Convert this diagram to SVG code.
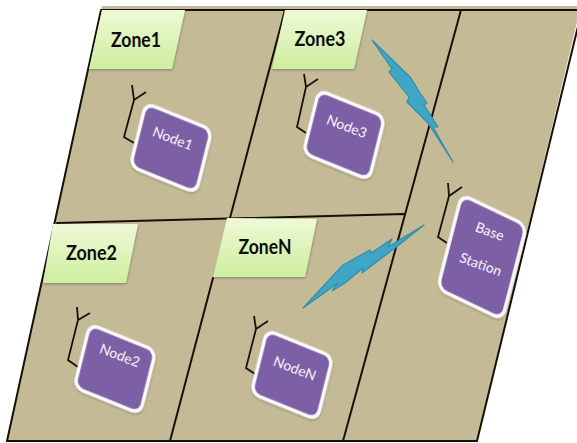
<svg xmlns="http://www.w3.org/2000/svg" width="577" height="443" viewBox="0 0 577 443">
<style>
.edge{fill:none;stroke:#141208;stroke-width:2;stroke-linecap:round}
.ant{fill:none;stroke:#15130c;stroke-width:1.8;stroke-linejoin:miter}
.box{fill:#7c5fa5;stroke:#fbfafc;stroke-width:3.5;filter:url(#sh)}
.lab{fill:url(#g);filter:url(#sh)}
.zt{font:bold 20px Lato,"Liberation Sans",sans-serif;fill:#0c0c0a;text-anchor:middle}
.nt{font:500 14px Lato,"Liberation Sans",sans-serif;fill:#efeaf4;text-anchor:middle}
.bolt{fill:#40a6c6;stroke:#2f8fa8;stroke-width:1.2;stroke-linejoin:round}
</style>
<defs>
<linearGradient id="g" x1="0" y1="0" x2="0" y2="1"><stop offset="0" stop-color="#eff9d6"/><stop offset="1" stop-color="#cdee9f"/></linearGradient>
<filter id="sh" x="-10%" y="-10%" width="125%" height="125%"><feDropShadow dx="0.5" dy="1.2" stdDeviation="0.8" flood-color="#000" flood-opacity="0.3"/></filter>
</defs>
<rect width="577" height="443" fill="#fff"/>
<g id="ground">
<polygon points="102,6 577,6 577,22 477,441 7,441 101,10" fill="#c4bb96"/>
</g>
<g id="connectors">
<path class="edge" d="M102,10H577M101,10L7,441H477L582,10M285,10L230,218M213,278L170,441M461,10L343,441M57,223L404,214"/>
<polygon class="bolt" points="372,40 411,78 420,93 427,103 424,105 438,127 433,127 453,162 428,123 407,102 409,97 389,72 392,69"/>
<polygon class="bolt" points="303,308 343,265 370,250 371,253 392,239 388,247 424,225 395,248 362,273 363,268 345,283 332,291 338,283"/>
</g>
<g id="zone1"><polygon class="lab" points="102,10 185,10 172,69 89,69"/><text class="zt" x="136" y="47" textLength="50" lengthAdjust="spacingAndGlyphs">Zone1</text></g>
<g id="zone3"><polygon class="lab" points="285,10 367,10 354,69 272,69"/><text class="zt" x="320" y="46" textLength="51" lengthAdjust="spacingAndGlyphs">Zone3</text></g>
<g id="zone2"><polygon class="lab" points="53,224 138,224 126,283 43,283"/><text class="zt" x="91.500" y="260" textLength="51" lengthAdjust="spacingAndGlyphs">Zone2</text></g>
<g id="zoneN"><polygon class="lab" points="227,218 317,219 305,277 213,277"/><text class="zt" x="265" y="254" textLength="53" lengthAdjust="spacingAndGlyphs">ZoneN</text></g>
<g id="node1">
<path class="ant" d="M132,85L134,100L146,92M134,100L124,137L134,143"/>
<rect class="box" x="-35.500" y="-32.500" width="71" height="65" rx="9" transform="matrix(.927 .375 -.242 .97 171 148)"/>
<text class="nt" transform="translate(171,143) rotate(21)">Node1</text>
</g>
<g id="node3">
<path class="ant" d="M304,74L306,87L318,79M306,87L297,127L306,133"/>
<rect class="box" x="-35.500" y="-32.500" width="71" height="65" rx="9" transform="matrix(.927 .375 -.242 .97 344 135)"/>
<text class="nt" transform="translate(345,131) rotate(21)">Node3</text>
</g>
<g id="node2">
<path class="ant" d="M77,307L78,320L90,313M78,320L68,360L78,367"/>
<rect class="box" x="-35.500" y="-32.500" width="71" height="65" rx="9" transform="matrix(.927 .375 -.242 .97 115 369)"/>
<text class="nt" transform="translate(118,360) rotate(21)">Node2</text>
</g>
<g id="nodeN">
<path class="ant" d="M254,316L256,329L268,321M256,329L246,368L255,374"/>
<rect class="box" x="-35.500" y="-32.500" width="71" height="65" rx="9" transform="matrix(.927 .375 -.242 .97 292 375)"/>
<text class="nt" transform="translate(293,373) rotate(21)">NodeN</text>
</g>
<g id="base">
<path class="ant" d="M448,183L449,196L462,187M449,196L438,237L447,243"/>
<rect class="box" x="-36" y="-48.500" width="72" height="97" rx="10" transform="matrix(.9 .43 -.25 .97 482 257)"/>
<text class="nt" transform="translate(488,236) rotate(20)">Base</text>
<text class="nt" transform="translate(479,269) rotate(20)">Station</text>
</g>
</svg>
